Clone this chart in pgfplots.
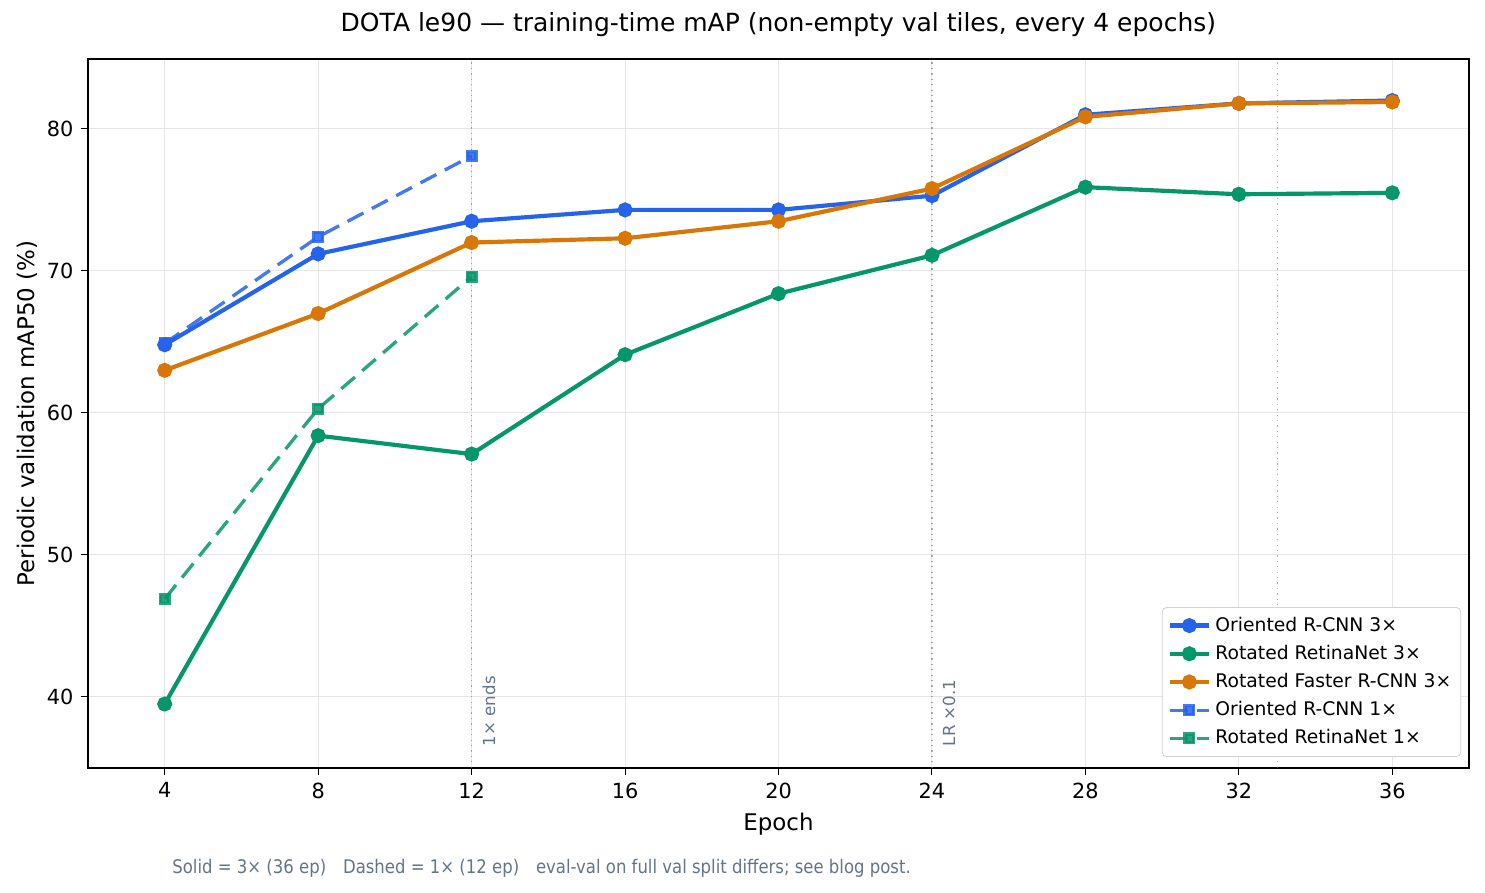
\documentclass[border=0pt]{standalone}
\usepackage{fontspec}
\setmainfont{DejaVu Sans}
\newfontfamily\condfont[FakeStretch=0.88]{DejaVu Sans}
\usepackage{pgfplots}
\pgfplotsset{compat=1.18}
\definecolor{cblue}{HTML}{2563EB}
\definecolor{cgreen}{HTML}{059669}
\definecolor{corange}{HTML}{D97706}
\definecolor{slate}{HTML}{64748B}
\definecolor{gridc}{HTML}{E6E6E6}
\begin{document}
\begin{tikzpicture}
\path (-42.24pt,-60pt) rectangle (670.56pt,368.6pt);
\begin{axis}[
  at={(0,0)}, anchor=south west,
  scale only axis, width=662.9pt, height=340.3pt,
  xmin=2, xmax=38, ymin=35, ymax=84.93,
  xtick={4,8,...,36}, ytick={40,50,...,80},
  grid=major, major grid style={gridc, line width=0.5pt},
  axis line style={black, line width=0.6pt},
  tick style={black, line width=0.5pt},
  tick align=outside, major tick length=3.5pt,
  xtick pos=bottom, ytick pos=left,
  /pgf/number format/assume math mode=true,
  tick label style={font=\fontsize{10}{12}\selectfont},
  label style={font=\fontsize{11}{13}\selectfont},
  ylabel shift=-2.5pt,
  xlabel={Epoch}, ylabel={Periodic validation mAP50 (\%)},
  legend style={at={(1,0)}, anchor=south east, xshift=-3.8pt, yshift=5.3pt,
    font=\fontsize{9}{11}\selectfont, draw=gray!35, rounded corners=2pt,
    cells={anchor=west}, inner sep=2.5pt, row sep=1.2pt},
  legend image code/.code={\draw[mark repeat=2,mark phase=2] plot coordinates {(0pt,0pt) (9.5pt,0pt) (19pt,0pt)};},
]
\addplot[cblue, line width=2pt, mark=*, mark size=2.6pt] coordinates {
(4,64.8) (8,71.2) (12,73.5) (16,74.3) (20,74.3) (24,75.3) (28,81.0) (32,81.8) (36,82.0)};
\addlegendentry{Oriented R-CNN 3×}
\addplot[cgreen, line width=2pt, mark=*, mark size=2.6pt] coordinates {
(4,39.5) (8,58.4) (12,57.1) (16,64.1) (20,68.4) (24,71.1) (28,75.9) (32,75.4) (36,75.5)};
\addlegendentry{Rotated RetinaNet 3×}
\addplot[corange, line width=2pt, mark=*, mark size=2.6pt] coordinates {
(4,63.0) (8,67.0) (12,72.0) (16,72.3) (20,73.5) (24,75.8) (28,80.85) (32,81.8) (36,81.9)};
\addlegendentry{Rotated Faster R-CNN 3×}
\addplot[cblue, opacity=0.85, line width=1.6pt, dash pattern=on 8.6pt off 4.6pt, mark=square*, mark size=2.1pt, mark options={solid}] coordinates {
(4,64.9) (8,72.4) (12,78.1)};
\addlegendentry{Oriented R-CNN 1×}
\addplot[cgreen, opacity=0.85, line width=1.6pt, dash pattern=on 8.6pt off 4.6pt, mark=square*, mark size=2.1pt, mark options={solid}] coordinates {
(4,46.9) (8,60.3) (12,69.6)};
\addlegendentry{Rotated RetinaNet 1×}
\addplot[slate, opacity=0.6, line width=0.6pt, dotted, forget plot] coordinates {(12,35) (12,84.93)};
\addplot[slate, opacity=0.6, line width=0.6pt, dotted, forget plot] coordinates {(24,35) (24,84.93)};
\addplot[slate, opacity=0.6, line width=0.6pt, dotted, forget plot] coordinates {(33,35) (33,84.93)};
\node[rotate=90, anchor=north west, text=slate, font=\fontsize{8}{9}\selectfont, inner sep=0pt] at (axis cs:12.27,36.5) {1× ends};
\node[rotate=90, anchor=north west, text=slate, font=\fontsize{8}{9}\selectfont, inner sep=0pt] at (axis cs:24.27,36.5) {LR ×0.1};
\end{axis}
\node[font=\fontsize{12}{14}\selectfont] at (331.4pt,356.6pt) {DOTA le90 — training-time mAP (non-empty val tiles, every 4 epochs)};
\node[anchor=west, text=slate, font=\condfont\fontsize{9}{10}\selectfont, inner sep=0pt] at (40.3pt,-48pt) {Solid = 3× (36 ep)\hspace{0.9em}Dashed = 1× (12 ep)\hspace{0.9em}eval-val on full val split differs; see blog post.};
\end{tikzpicture}
\end{document}
